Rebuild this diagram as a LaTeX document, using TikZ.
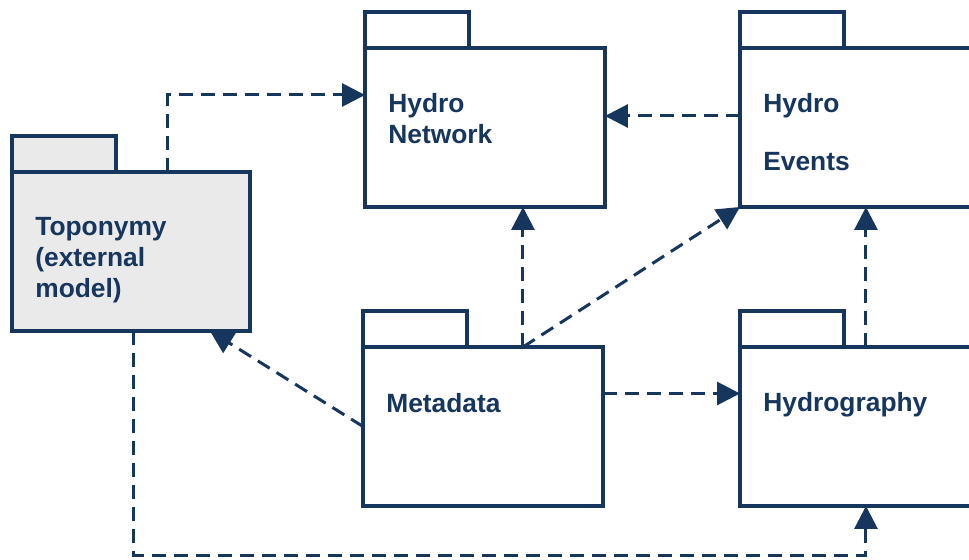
\documentclass[tikz,border=0pt]{standalone}
\usepackage{fontspec}
\setmainfont{Liberation Sans}
\usepackage{xcolor}
\usetikzlibrary{arrows.meta,positioning}

\definecolor{navy}{HTML}{17365D}
\definecolor{extgray}{HTML}{EAEAEA}

\tikzset{
  pkgbody/.style={draw=navy,line width=0.065cm,fill=white,minimum width=4.8cm,minimum height=3.18cm,inner sep=0pt,outer sep=0pt,anchor=north west},
  pkgtab/.style={draw=navy,line width=0.065cm,fill=white,minimum width=2.08cm,minimum height=0.72cm,inner sep=0pt,outer sep=0pt,anchor=south west},
  pkgtext/.style={text=navy,font=\bfseries\fontsize{15}{17.6}\selectfont,align=left,anchor=west,inner sep=0pt},
  dep/.style={draw=navy,line width=0.06cm,dash pattern=on 0.28cm off 0.16cm,-{Triangle[length=0.46cm,width=0.46cm]}}
}

\begin{document}
\begin{tikzpicture}[x=0.02cm,y=-0.02cm]
\useasboundingbox (0,0) rectangle (969,559);
\clip (0,0) rectangle (969,559);

% Toponymy (external)
\node[pkgbody,fill=extgray,minimum width=4.76cm] (topo) at (12,172) {};
\node[pkgtab,fill=extgray] (topo-tab) at (topo.north west) {};
\node[pkgtext] (topo-txt) at ([xshift=0.46cm,yshift=-0.18cm]topo.west) {Toponymy\\(external\\model)};

% Hydro Network
\node[pkgbody] (hnet) at (365,48) {};
\node[pkgtab] (hnet-tab) at (hnet.north west) {};
\node[pkgtext] (hnet-txt) at ([xshift=0.46cm,yshift=0.18cm]hnet.west) {Hydro\\Network};

% Hydro Events
\node[pkgbody] (hev) at (740,48) {};
\node[pkgtab] (hev-tab) at (hev.north west) {};
\node[pkgtext] (hev-txt) at ([xshift=0.46cm,yshift=-0.09cm]hev.west) {Hydro\\[15pt]Events};

% Metadata
\node[pkgbody] (meta) at (363,347) {};
\node[pkgtab] (meta-tab) at (meta.north west) {};
\node[pkgtext] (meta-txt) at ([xshift=0.46cm,yshift=0.47cm]meta.west) {Metadata};

% Hydrography
\node[pkgbody] (hgr) at (740,347) {};
\node[pkgtab] (hgr-tab) at (hgr.north west) {};
\node[pkgtext] (hgr-txt) at ([xshift=0.46cm,yshift=0.44cm]hgr.west) {Hydrography};

% Dependencies
\coordinate (low) at (0,555);
\draw[dep] ([xshift=0.74cm]topo.north) |- ([yshift=0.65cm]hnet.west);
\draw[dep] ([yshift=0.23cm]hev.west) -- ([yshift=0.23cm]hnet.east);
\draw[dep] ([xshift=0.8cm]meta.north) -- ([xshift=0.8cm]meta.north |- hnet.south);
\draw[dep] ([xshift=0.8cm]meta.north) -- (hev.south west);
\draw[dep] (meta.west) -- ([xshift=1.58cm]topo.south);
\draw[dep] ([yshift=0.66cm]meta.east) -- ([yshift=0.66cm]hgr.west);
\draw[dep] ([xshift=0.12cm]hgr.north) -- ([xshift=0.12cm]hgr.north |- hev.south);
\draw[dep] ([xshift=0.06cm]topo.south) |- ([xshift=0.12cm]hgr.south |- low) -- ([xshift=0.12cm]hgr.south);
\end{tikzpicture}
\end{document}
